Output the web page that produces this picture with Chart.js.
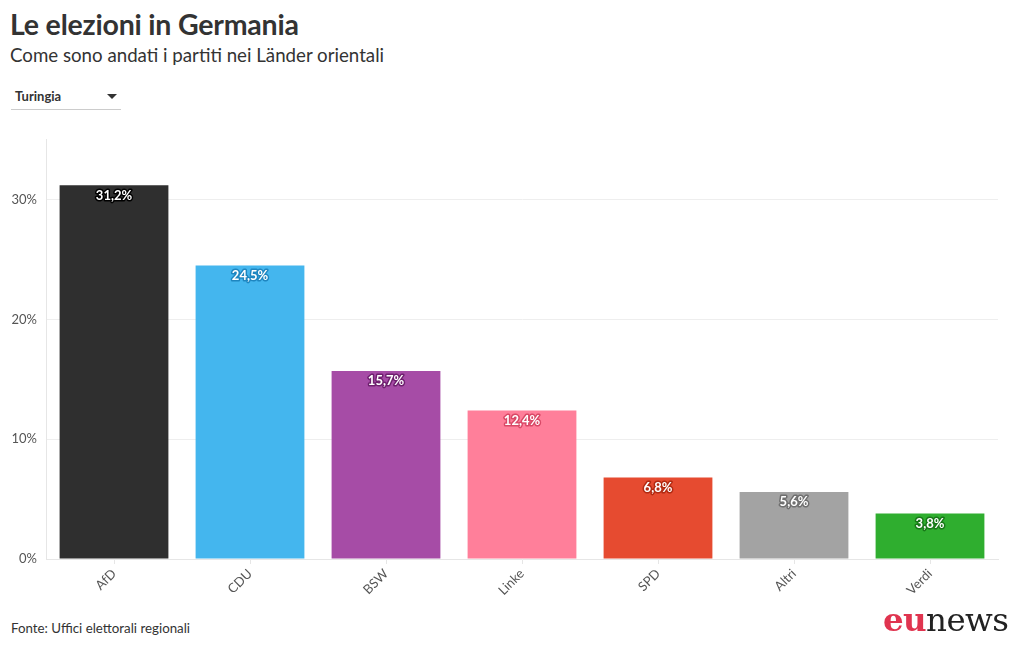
<!DOCTYPE html>
<html><head><meta charset="utf-8">
<script src="https://cdn.jsdelivr.net/npm/chart.js@4"></script>
<style>
html,body{margin:0;padding:0;background:#fff;width:1020px;height:650px;overflow:hidden;font-family:"Source Sans Pro",Lato,"Open Sans",sans-serif;color:#333}
#title{position:absolute;left:10px;top:7px;font-size:28.5px;font-weight:700;color:#333;letter-spacing:-0.2px}
#sub{position:absolute;left:10px;top:44px;font-size:18.7px;color:#333}
#dd{position:absolute;left:11px;top:86px;width:110px;height:23px;border-bottom:1px solid #ccc;font-size:13px;font-weight:700;color:#333}
#dd span{position:absolute;left:4px;top:2px}
#dd i{position:absolute;left:96px;top:8px;width:0;height:0;border-left:5px solid transparent;border-right:5px solid transparent;border-top:5px solid #333}
#src{position:absolute;left:11px;top:620px;font-size:13.3px;color:#333}
#logo{position:absolute;left:883px;top:600px;font-family:"DejaVu Serif","Liberation Serif",serif;font-size:32.5px;letter-spacing:-0.6px}
#logo b{color:#e0344f;font-weight:700}
#logo span{color:#222}
#wrap{position:absolute;left:0;top:123px;width:1020px;height:487px}
</style></head><body>
<div id="title">Le elezioni in Germania</div>
<div id="sub">Come sono andati i partiti nei Länder orientali</div>
<div id="dd"><span>Turingia</span><i></i></div>
<div id="wrap"><canvas id="c"></canvas></div>
<div id="src">Fonte: Uffici elettorali regionali</div>
<div id="logo"><b>eu</b><span>news</span></div>
<script>
const categories = ["AfD","CDU","BSW","Linke","SPD","Altri","Verdi"];
const values = [31.2,24.5,15.7,12.4,6.8,5.6,3.8];
const colors = ["#2f2f2f","#44b6ee","#a64ca6","#ff7f9a","#e64b30","#a3a3a3","#2fae2f"];
const strokeColors = ["#000000","#1f86c0","#6e1f6e","#d94866","#b22a12","#6f6f6f","#187818"];
const yTicks = [0,10,20,30];

const labelPlugin = {
  id:'valLabels',
  afterDatasetsDraw(chart){
    const ctx = chart.ctx;
    const meta = chart.getDatasetMeta(0);
    ctx.save();
    ctx.font = 'bold 13px "Source Sans Pro",Lato,"Open Sans",sans-serif';
    ctx.textAlign='center'; ctx.textBaseline='middle';
    ctx.lineJoin='round';
    meta.data.forEach((bar,i)=>{
      const txt = values[i].toFixed(1).replace('.',',')+'%';
      const y = bar.y + 10;
      ctx.lineWidth=3; ctx.strokeStyle=strokeColors[i];
      ctx.strokeText(txt,bar.x,y);
      ctx.fillStyle='#fff';
      ctx.fillText(txt,bar.x,y);
    });
    ctx.restore();
  }
};

new Chart(document.getElementById('c'),{
  type:'bar',
  data:{labels:categories,datasets:[{data:values,backgroundColor:colors,borderWidth:0,categoryPercentage:0.8,barPercentage:1}]},
  options:{
    responsive:true,maintainAspectRatio:false,animation:false,
    layout:{padding:{top:2,right:22,left:0,bottom:0}},
    plugins:{legend:{display:false},tooltip:{enabled:false}},
    scales:{
      x:{
        grid:{display:true,offset:false,drawOnChartArea:false,drawTicks:true,tickLength:5,color:'#e6e6e6'},
        border:{color:'#e6e6e6'},
        ticks:{maxRotation:45,minRotation:45,color:'#555',font:{size:13,family:'"Source Sans Pro",Lato,"Open Sans",sans-serif'},padding:2},
        afterFit(s){s.height=51;}
      },
      y:{
        min:0,max:35,
        afterBuildTicks(s){s.ticks = yTicks.map(v=>({value:v}));},
        grid:{color:'#eeeeee',drawTicks:false},
        border:{color:'#e6e6e6'},
        ticks:{color:'#555',padding:9,font:{size:13,family:'"Source Sans Pro",Lato,"Open Sans",sans-serif'},callback:v=>v+'%'},
        afterFit(s){s.width=46;}
      }
    }
  },
  plugins:[labelPlugin]
});
</script>
</body></html>
